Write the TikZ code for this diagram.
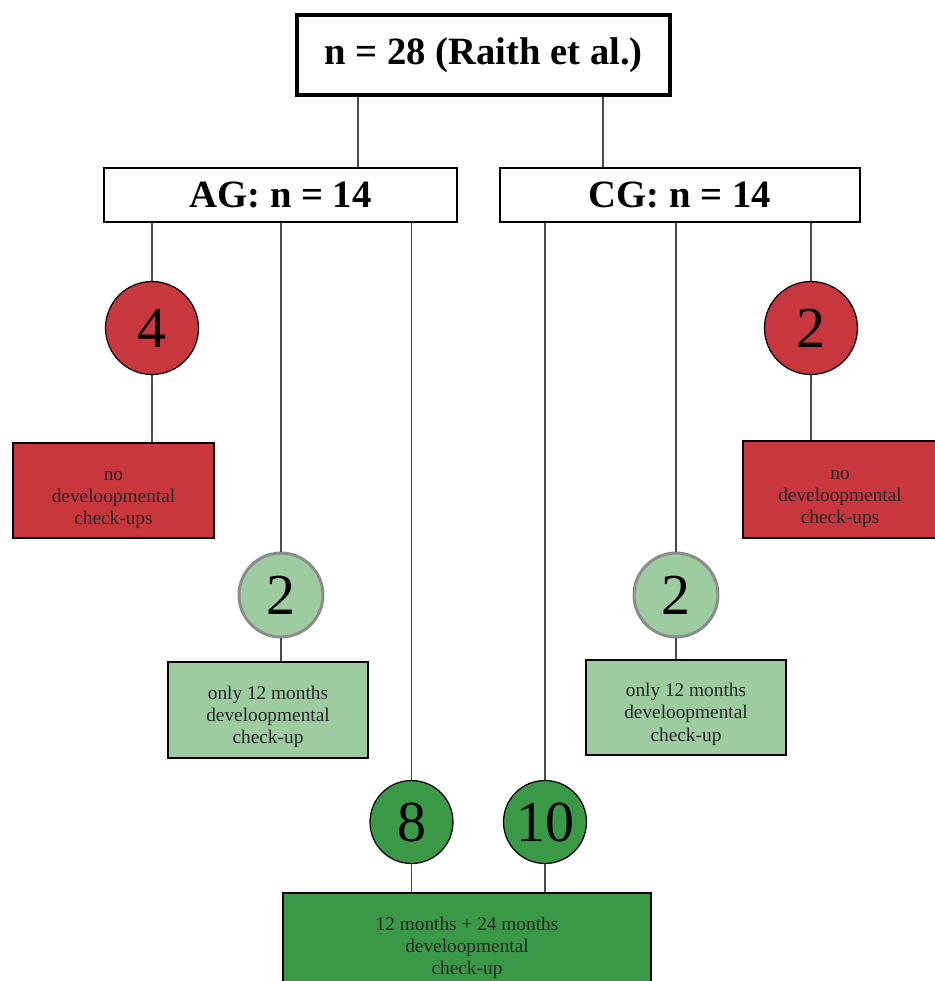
\documentclass[tikz,border=0pt]{standalone}
\usepackage{fontspec}
\setmainfont{Liberation Serif}
\definecolor{nored}{HTML}{C8363E}
\definecolor{onegreen}{HTML}{9DCCA0}
\definecolor{twogreen}{HTML}{3A9946}
\newcommand{\boxlines}[2][4.3pt]{\raisebox{-#1}[\height][\depth]{\begin{tabular}{@{}c@{}}#2\end{tabular}}}
\tikzset{
  headbox/.style={draw,line width=2.8pt,fill=white,font=\fontsize{22}{26}\selectfont\bfseries,
    minimum width=7.46cm,minimum height=1.6cm},
  groupbox/.style={draw,line width=0.9pt,fill=white,font=\fontsize{22}{26}\selectfont\bfseries,
    minimum height=1.08cm},
  countcirc/.style={circle,draw,line width=0.7pt,inner sep=0pt,font=\fontsize{33}{36}\selectfont},
  infobox/.style={draw,line width=0.9pt,text=black!85,
    font=\fontsize{11}{12.6}\selectfont,minimum width=4cm,minimum height=1.92cm},
  link/.style={draw=black!70,line width=1.1pt}
}
\begin{document}
\begin{tikzpicture}[x={(0.02cm,0)},y={(0,-0.02cm)}]
\useasboundingbox (0,0) rectangle (935,981);
\node[headbox] (top) at (483.5,55) {n = 28 (Raith et al.)};
\node[groupbox,minimum width=7.06cm] (ag) at (280.5,195) {AG: n = 14};
\node[groupbox,minimum width=7.2cm] (cg) at (680,195) {CG: n = 14};

\node[countcirc,fill=nored,minimum size=1.86cm] (ag4) at (152,328) {4};
\node[countcirc,fill=nored,minimum size=1.86cm] (cg2) at (811,328) {2};
\node[countcirc,fill=onegreen,draw=black!45,line width=1.7pt,minimum size=1.68cm] (ag2) at (281,595) {2};
\node[countcirc,fill=onegreen,draw=black!45,line width=1.7pt,minimum size=1.68cm] (cg2b) at (676,595) {2};
\node[countcirc,fill=twogreen,minimum size=1.66cm] (ag8) at (411.5,822) {8};
\node[countcirc,fill=twogreen,minimum size=1.66cm] (cg10) at (545,822) {10};

\node[infobox,fill=nored,minimum width=4.02cm,minimum height=1.9cm] (agno) at (113.5,490.5) {\boxlines{no\\develoopmental\\check-ups}};
\node[infobox,fill=nored,minimum width=3.88cm,minimum height=1.94cm] (cgno) at (840,489.5) {\boxlines{no\\develoopmental\\check-ups}};
\node[infobox,fill=onegreen] (ag12) at (268,710) {\boxlines[4pt]{only 12 months\\develoopmental\\check-up}};
\node[infobox,fill=onegreen,minimum height=1.9cm] (cg12) at (686,707.5) {\boxlines[4pt]{only 12 months\\develoopmental\\check-up}};
\node[infobox,fill=twogreen,minimum width=7.36cm,minimum height=2.04cm] (both) at (467,944) {\boxlines[2.3pt]{12 months + 24 months\\develoopmental\\check-up}};

% group split
\draw[link] ([xshift=-2.51cm]top.south) -- ([xshift=-2.51cm]top.south |- ag.north);
\draw[link] ([xshift=2.39cm]top.south) -- ([xshift=2.39cm]top.south |- cg.north);

% AG
\draw[link] (ag4.north) -- (ag4.north |- ag.south);
\draw[link] (ag4.south) -- (ag4.south |- agno.north);
\draw[link] (ag2.north) -- (ag2.north |- ag.south);
\draw[link] (ag2.south) -- (ag2.south |- ag12.north);
\draw[link] (ag8.north) -- (ag8.north |- ag.south);
\draw[link] (ag8.south) -- (ag8.south |- both.north);

% CG
\draw[link] (cg2.north) -- (cg2.north |- cg.south);
\draw[link] (cg2.south) -- (cg2.south |- cgno.north);
\draw[link] (cg2b.north) -- (cg2b.north |- cg.south);
\draw[link] (cg2b.south) -- (cg2b.south |- cg12.north);
\draw[link] (cg10.north) -- (cg10.north |- cg.south);
\draw[link] (cg10.south) -- (cg10.south |- both.north);
\end{tikzpicture}
\end{document}
